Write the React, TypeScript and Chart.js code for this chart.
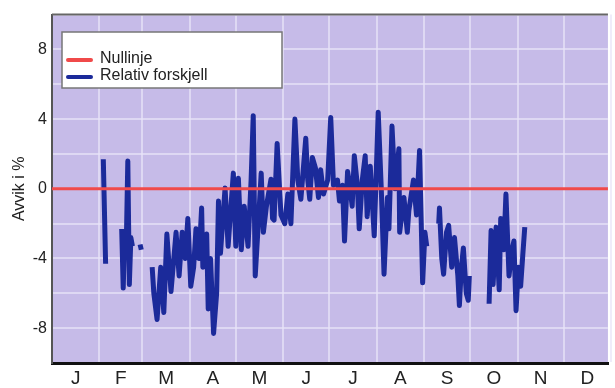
import React, { useEffect, useRef } from "react";
import { Chart, registerables } from "chart.js";

Chart.register(...registerables);

// Month boundaries (day of year) and label positions
const monthStarts = [0, 31, 59, 90, 120, 151, 181, 212, 243, 273, 304, 334, 365];
const monthLabels = ["J", "F", "M", "A", "M", "J", "J", "A", "S", "O", "N", "D"];
const monthMids = monthStarts.slice(0, 12).map((s, i) => (s + monthStarts[i + 1]) / 2);

const yTicks = [-8, -4, 0, 4, 8];

// Nullinje
const nullDays = [0, 365];
const nullValues = [0, 0];

// Relativ forskjell (day of year, percent); null = gap in the record
const relDays = [
  33.5, 35,
  40,
  45.5, 46.5, 47.5, 48.5, 49.5, 50.5, 51.5, 52.5,
  55,
  57.5, 58.3,
  62,
  65.4, 66.5, 68.6, 71, 73, 75, 77.7, 81, 83, 85, 87, 88.7, 90.6, 92.5, 94, 96, 97.7, 98.5,
  101, 102, 103.5, 105.5, 107.5, 108.7, 110, 113, 115, 118.4, 120, 121.7, 123.6, 125.5, 128,
  130, 131.4, 132.7, 134.7, 136.6, 138, 140, 143, 144, 145, 147, 149.5, 152, 154, 156, 158.6,
  160.5, 162.5, 165.7, 167, 168.3, 170, 172, 174, 175.4, 177.3, 180, 182, 183.8, 186.4, 187.7,
  189.7, 191, 193, 194, 196, 197.4, 199.4, 200.6, 202.6, 204.5, 205.8, 207.8, 210.4, 213, 215,
  216.8, 219, 220, 222, 224, 226.5, 227, 229.8, 232, 233, 236, 238, 240, 242, 243.5, 244.7,
  248,
  252.5, 253, 254.5, 255.7, 257.6, 259, 261, 262.8, 265, 266, 267.3, 268.6, 270.5, 271.8, 272.5,
  280,
  285.4, 286.7, 288, 290, 292, 293, 295, 296.4, 298.4, 300.4, 301.6, 303, 304.5, 306, 307.4, 308.7,
];
const relValues = [
  1.7, -4.3,
  null,
  -2.3, -5.7, -2.6, -3.2, 1.6, -5.5, -2.8, -3.3,
  null,
  -3.2, -3.5,
  null,
  -4.5, -6.0, -7.5, -4.5, -7.1, -2.6, -5.9, -2.5, -5.0, -2.5, -4.0, -1.7, -5.6, -4.5, -2.3, -4.0, -1.1, -4.5,
  -2.6, -6.9, -4.0, -8.3, -6.0, -0.7, -3.7, 0.05, -3.3, 0.9, -3.3, 0.6, -3.5, -1.0, -3.3,
  0.5, 4.2, -5.0, -2.0, 0.9, -2.5, -1.0, 0.55, -1.7, -1.8, 2.6, -1.5, -2.0, -0.3, -2.0, 4.0,
  0.5, -0.6, 2.9, 0.5, -0.6, 1.8, 1.2, -0.5, 1.1, -0.3, 0.5, 4.1, 0.2, 0.5, -0.7,
  0.2, -3.0, 1.0, 0.45, -1.0, 1.9, 0.2, -2.3, 0.5, 1.9, -1.6, 1.3, -2.7, 4.4, 0,
  -4.9, -0.5, -2.3, 3.6, 0, 2.3, -2.5, -0.5, -2.5, -1.25, 0.5, -1.5, 2.2, -5.4, -2.5, -3.3,
  null,
  -2.0, -1.1, -4.0, -4.9, -2.5, -2.1, -4.5, -2.8, -5.0, -6.7, -4.5, -3.4, -6.0, -6.4, -5.0,
  null,
  -6.6, -2.4, -5.5, -2.2, -5.8, -1.7, -3.5, -0.3, -5.0, -3.5, -3.0, -7.0, -4.5, -5.6, -3.8, -2.2,
];

const FONT = "'Liberation Sans', Arial, Helvetica, sans-serif";
const GRID = "rgba(232,228,248,0.7)";

const bgPlugin = {
  id: "plotBg",
  beforeDraw(chart: any) {
    const { ctx, chartArea: a } = chart;
    ctx.save();
    ctx.fillStyle = "#c6bbe8";
    ctx.fillRect(a.left, a.top, a.right - a.left, a.bottom - a.top);
    ctx.restore();
  },
  afterDraw(chart: any) {
    const { ctx, chartArea: a } = chart;
    ctx.save();
    // top frame line
    ctx.strokeStyle = "#666";
    ctx.lineWidth = 2;
    ctx.beginPath();
    ctx.moveTo(a.left, a.top);
    ctx.lineTo(a.right, a.top);
    ctx.stroke();
    // legend box
    const bx = 62, by = 32, bw = 220, bh = 56;
    ctx.fillStyle = "#ffffff";
    ctx.fillRect(bx, by, bw, bh);
    ctx.strokeStyle = "#777";
    ctx.lineWidth = 1.5;
    ctx.strokeRect(bx, by, bw, bh);
    const rows = [60, 77];
    chart.data.datasets.forEach((ds: any, i: number) => {
      const y = rows[i];
      ctx.strokeStyle = ds.borderColor;
      ctx.lineWidth = 4;
      ctx.lineCap = "round";
      ctx.beginPath();
      ctx.moveTo(68, y);
      ctx.lineTo(91, y);
      ctx.stroke();
      ctx.fillStyle = "#222";
      ctx.font = `16px ${FONT}`;
      ctx.textBaseline = "middle";
      ctx.textAlign = "left";
      ctx.fillText(ds.label, 100, y - 1);
    });
    ctx.restore();
  },
};

export default function App() {
  const ref = useRef<HTMLCanvasElement>(null);
  useEffect(() => {
    if (!ref.current) return;
    const chart = new Chart(ref.current, {
      type: "line",
      data: {
        datasets: [
          {
            label: "Nullinje",
            data: nullDays.map((d, i) => ({ x: d, y: nullValues[i] })),
            borderColor: "#f04a4a",
            borderWidth: 3,
            pointRadius: 0,
          },
          {
            label: "Relativ forskjell",
            data: relDays.map((d, i) => ({ x: d, y: relValues[i] })),
            borderColor: "#1b2a9a",
            borderWidth: 5,
            borderJoinStyle: "round",
            pointRadius: 0,
            spanGaps: false,
            tension: 0,
          },
        ],
      },
      options: {
        animation: false,
        responsive: false,
        layout: { padding: { top: 12, right: 0, bottom: 0, left: 0 } },
        plugins: { legend: { display: false }, tooltip: { enabled: false } },
        scales: {
          x: {
            type: "linear",
            min: 0,
            max: 363,
            afterBuildTicks: (s: any) => {
              s.ticks = [...monthStarts, ...monthMids]
                .sort((a, b) => a - b)
                .map((v) => ({ value: v }));
            },
            afterFit: (s: any) => {
              s.height = 25;
            },
            ticks: {
              autoSkip: false,
              maxRotation: 0,
              padding: 4,
              color: "#222",
              font: { size: 19, family: FONT },
              callback: (v: any) => {
                const i = monthMids.indexOf(Number(v));
                return i >= 0 ? monthLabels[i] : "";
              },
            },
            grid: {
              drawTicks: false,
              lineWidth: 2,
              color: (c: any) =>
                c.tick && monthStarts.includes(c.tick.value) ? GRID : "rgba(0,0,0,0)",
            },
            border: { display: true, color: "#111", width: 3 },
          },
          y: {
            min: -10,
            max: 10,
            afterBuildTicks: (s: any) => {
              const t: any[] = [];
              for (let v = -10; v <= 10; v += 2) t.push({ value: v });
              s.ticks = t;
            },
            afterFit: (s: any) => {
              s.width = 52;
            },
            ticks: {
              padding: 5,
              color: "#222",
              font: { size: 16, family: FONT },
              callback: (v: any) => (yTicks.includes(Number(v)) ? String(v) : ""),
            },
            grid: { drawTicks: false, lineWidth: 2, color: GRID },
            border: { display: true, color: "#555", width: 2 },
            title: {
              display: true,
              text: "Avvik i %",
              color: "#222",
              font: { size: 16, family: FONT },
              padding: { top: 10, bottom: 0 },
            },
          },
        },
      },
      plugins: [bgPlugin],
    });
    return () => chart.destroy();
  }, []);
  return (
    <div style={{ position: "fixed", left: 0, top: 0, width: 615, height: 388, background: "#fff" }}>
      <canvas ref={ref} width={615} height={388} style={{ width: 615, height: 388 }} />
    </div>
  );
}
